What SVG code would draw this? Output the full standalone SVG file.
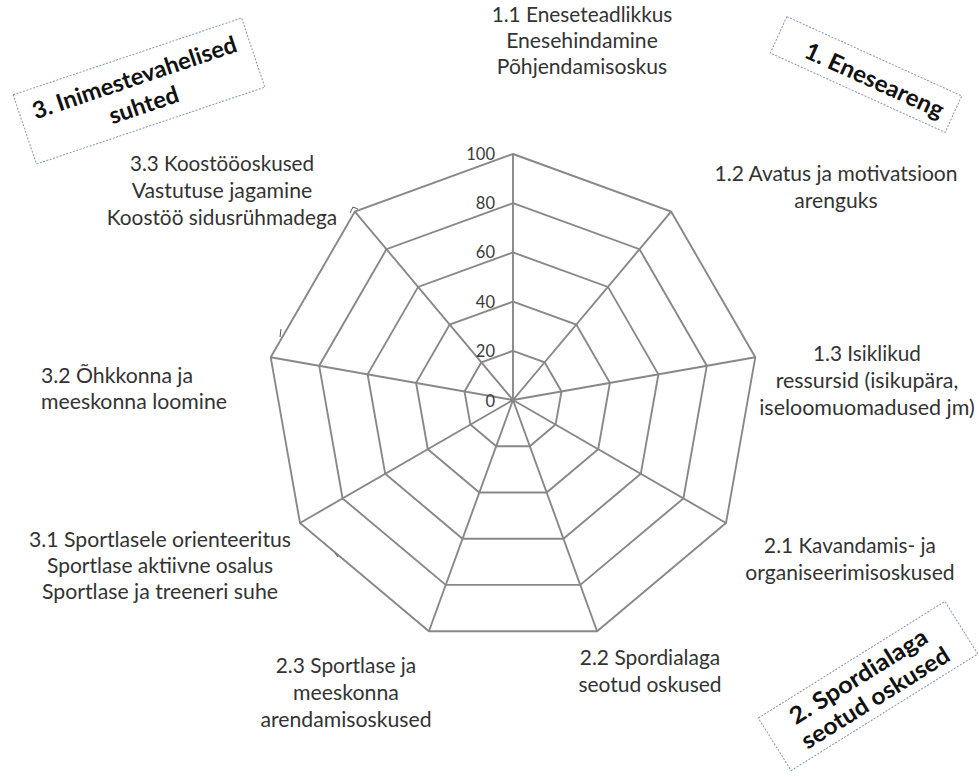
<svg xmlns="http://www.w3.org/2000/svg" width="979" height="777" viewBox="0 0 979 777">
<style>
.ring{fill:none;stroke:#888888;stroke-width:1.9;stroke-linejoin:miter}
.spoke{fill:none;stroke:#888888;stroke-width:1.9}
.lbl{font-family:Lato,"Open Sans","Liberation Sans",sans-serif;font-size:20.5px;fill:#333333;text-anchor:middle}
.lft{text-anchor:start}
.tick{font-family:Lato,"Open Sans","Liberation Sans",sans-serif;font-size:16.5px;fill:#3a3a3a;text-anchor:end}
.box{fill:#ffffff;stroke:#8496b8;stroke-width:1;stroke-dasharray:2 1.5}
.bt{font-family:Lato,"Open Sans","Liberation Sans",sans-serif;font-size:23.5px;font-weight:bold;fill:#111111;text-anchor:middle}
.mark{fill:none;stroke:#555;stroke-width:1}
</style>
<rect width="979" height="777" fill="#ffffff"/>
<g id="grid">
<polygon class="ring" points="513,154 671.1,211.6 755.3,357.3 726,523 597.1,631.2 428.9,631.2 300,523 270.7,357.3 354.9,211.6"/>
<polygon class="ring" points="513,203.2 639.5,249.2 706.8,365.8 683.4,498.4 580.3,584.9 445.7,584.9 342.6,498.4 319.2,365.8 386.5,249.2"/>
<polygon class="ring" points="513,252.4 607.9,286.9 658.4,374.4 640.8,473.8 563.5,538.7 462.5,538.7 385.2,473.8 367.6,374.4 418.1,286.9"/>
<polygon class="ring" points="513,301.6 576.3,324.6 609.9,382.9 598.2,449.2 546.7,492.5 479.3,492.5 427.8,449.2 416.1,382.9 449.7,324.6"/>
<polygon class="ring" points="513,350.8 544.6,362.3 561.5,391.5 555.6,424.6 529.8,446.2 496.2,446.2 470.4,424.6 464.5,391.5 481.4,362.3"/>
</g>
<g id="connectors">
<path class="spoke" d="M513,400L513,154M513,400L671.1,211.6M513,400L755.3,357.3M513,400L726,523M513,400L597.1,631.2M513,400L428.9,631.2M513,400L300,523M513,400L270.7,357.3M513,400L354.9,211.6"/>
<path class="mark" d="M350,213L353,207L358,209M281,329L280,337M335,553L338,557"/>
</g>
<g id="scale">
<text class="tick" x="495" y="160">100</text>
<text class="tick" x="495" y="209">80</text>
<text class="tick" x="495" y="258">60</text>
<text class="tick" x="495" y="308">40</text>
<text class="tick" x="495" y="357">20</text>
<text class="tick" x="495" y="407">0</text>
</g>
<g id="label-1-1">
<text class="lbl" x="582" y="22" textLength="180.7" lengthAdjust="spacingAndGlyphs">1.1 Eneseteadlikkus</text>
<text class="lbl" x="582" y="48" textLength="151.7" lengthAdjust="spacingAndGlyphs">Enesehindamine</text>
<text class="lbl" x="582" y="74" textLength="170.4" lengthAdjust="spacingAndGlyphs">Põhjendamisoskus</text>
</g>
<g id="label-1-2">
<text class="lbl" x="836" y="181" textLength="243" lengthAdjust="spacingAndGlyphs">1.2 Avatus ja motivatsioon</text>
<text class="lbl" x="836" y="208" textLength="83.3" lengthAdjust="spacingAndGlyphs">arenguks</text>
</g>
<g id="label-1-3">
<text class="lbl" x="867" y="361" textLength="107.8" lengthAdjust="spacingAndGlyphs">1.3 Isiklikud</text>
<text class="lbl" x="867" y="388" textLength="182.7" lengthAdjust="spacingAndGlyphs">ressursid (isikupära,</text>
<text class="lbl" x="867" y="415" textLength="215.6" lengthAdjust="spacingAndGlyphs">iseloomuomadused jm)</text>
</g>
<g id="label-2-1">
<text class="lbl" x="850" y="553" textLength="171.8" lengthAdjust="spacingAndGlyphs">2.1 Kavandamis- ja</text>
<text class="lbl" x="850" y="580" textLength="209.4" lengthAdjust="spacingAndGlyphs">organiseerimisoskused</text>
</g>
<g id="label-2-2">
<text class="lbl" x="650" y="665" textLength="140.5" lengthAdjust="spacingAndGlyphs">2.2 Spordialaga</text>
<text class="lbl" x="650" y="692" textLength="143.2" lengthAdjust="spacingAndGlyphs">seotud oskused</text>
</g>
<g id="label-2-3">
<text class="lbl" x="346" y="673" textLength="140.5" lengthAdjust="spacingAndGlyphs">2.3 Sportlase ja</text>
<text class="lbl" x="346" y="700" textLength="105.9" lengthAdjust="spacingAndGlyphs">meeskonna</text>
<text class="lbl" x="346" y="727" textLength="171.2" lengthAdjust="spacingAndGlyphs">arendamisoskused</text>
</g>
<g id="label-3-1">
<text class="lbl" x="160" y="547" textLength="262" lengthAdjust="spacingAndGlyphs">3.1 Sportlasele orienteeritus</text>
<text class="lbl" x="160" y="573" textLength="226" lengthAdjust="spacingAndGlyphs">Sportlase aktiivne osalus</text>
<text class="lbl" x="160" y="599" textLength="236" lengthAdjust="spacingAndGlyphs">Sportlase ja treeneri suhe</text>
</g>
<g id="label-3-2">
<text class="lbl lft" x="41" y="383" textLength="152" lengthAdjust="spacingAndGlyphs">3.2 Õhkkonna ja</text>
<text class="lbl lft" x="41" y="409" textLength="186" lengthAdjust="spacingAndGlyphs">meeskonna loomine</text>
</g>
<g id="label-3-3">
<text class="lbl" x="222" y="171" textLength="184.1" lengthAdjust="spacingAndGlyphs">3.3 Koostööoskused</text>
<text class="lbl" x="222" y="198" textLength="180.6" lengthAdjust="spacingAndGlyphs">Vastutuse jagamine</text>
<text class="lbl" x="222" y="225" textLength="230.4" lengthAdjust="spacingAndGlyphs">Koostöö sidusrühmadega</text>
</g>
<g id="box-3" transform="translate(139,91) rotate(-18.6)">
<rect class="box" x="-120.5" y="-36.5" width="241" height="73"/>
<text class="bt" x="0" y="-6" textLength="214" lengthAdjust="spacingAndGlyphs">3. Inimestevahelised</text>
<text class="bt" x="0" y="23" textLength="72" lengthAdjust="spacingAndGlyphs">suhted</text>
</g>
<g id="box-1" transform="translate(866,74.5) rotate(24.4)">
<rect class="box" x="-96" y="-20" width="192" height="40"/>
<text class="bt" x="10" y="10" textLength="150" lengthAdjust="spacingAndGlyphs">1. Eneseareng</text>
</g>
<g id="box-2" transform="translate(868,686) rotate(-32)">
<rect class="box" x="-110" y="-31" width="220" height="62"/>
<text class="bt" x="-3" y="-5" textLength="158" lengthAdjust="spacingAndGlyphs">2. Spordialaga</text>
<text class="bt" x="0" y="22" textLength="170" lengthAdjust="spacingAndGlyphs">seotud oskused</text>
</g>
</svg>
